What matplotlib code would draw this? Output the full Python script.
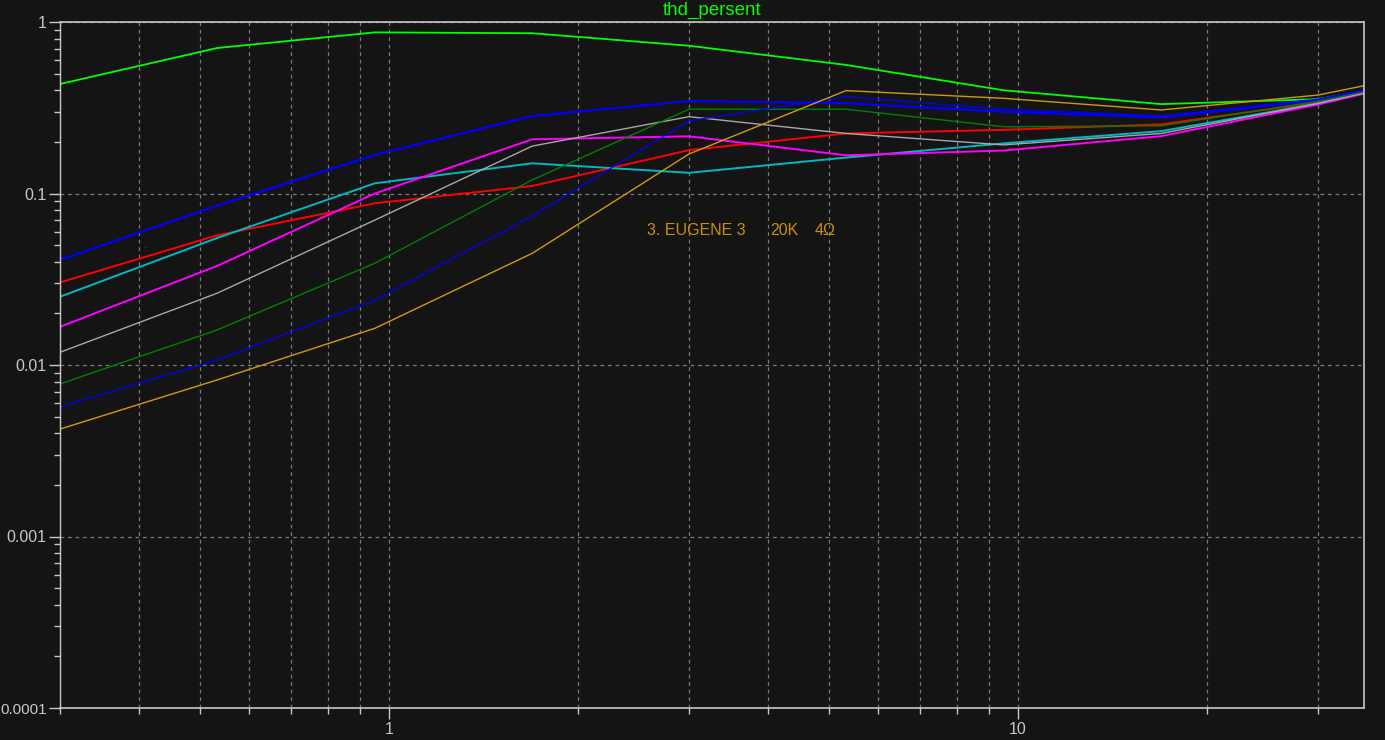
import matplotlib
matplotlib.use("Agg")
import matplotlib.pyplot as plt
from matplotlib.ticker import LogLocator, FixedLocator, FixedFormatter, NullFormatter

# ---- data ----
x_vals = [0.3, 0.533, 0.95, 1.69, 3.0, 5.33, 9.49, 16.9, 30.0, 35.5]

y_green   = [0.435, 0.705, 0.87, 0.86, 0.727, 0.562, 0.40, 0.332, 0.355, 0.395]
y_blue1   = [0.041, 0.085, 0.168, 0.283, 0.346, 0.336, 0.30, 0.278, 0.35, 0.40]
y_red     = [0.0303, 0.057, 0.0877, 0.1106, 0.179, 0.224, 0.235, 0.253, 0.34, 0.39]
y_cyan    = [0.025, 0.055, 0.1147, 0.150, 0.132, 0.162, 0.196, 0.231, 0.335, 0.385]
y_magenta = [0.0167, 0.0378, 0.100, 0.207, 0.2155, 0.167, 0.178, 0.216, 0.33, 0.382]
y_gray    = [0.01186, 0.0262, 0.070, 0.189, 0.2805, 0.224, 0.192, 0.224, 0.335, 0.385]
y_dgreen  = [0.00775, 0.016, 0.0392, 0.12, 0.31, 0.31, 0.245, 0.248, 0.345, 0.39]
y_blue2   = [0.00571, 0.0107, 0.0239, 0.074, 0.265, 0.367, 0.31, 0.283, 0.355, 0.40]
y_orange  = [0.00423, 0.00818, 0.01637, 0.0448, 0.170, 0.398, 0.359, 0.307, 0.375, 0.425]

series = [
    (y_green,   "#00ff00", 1.3),
    (y_blue1,   "#0000ff", 1.6),
    (y_red,     "#ff0000", 1.4),
    (y_cyan,    "#00b8c0", 1.4),
    (y_magenta, "#ff00ff", 1.4),
    (y_gray,    "#a8a8a8", 1.0),
    (y_dgreen,  "#008000", 1.0),
    (y_blue2,   "#0000ff", 0.9),
    (y_orange,  "#d09a10", 1.0),
]

title_text = "thd_persent"
annot_parts = ["3. EUGENE 3", "20K", "4\u03a9"]
y_tick_vals = [1e-4, 1e-3, 1e-2, 1e-1, 1]
y_tick_labels = ["0.0001", "0.001", "0.01", "0.1", "1"]
x_major = [1, 10]
x_major_labels = ["1", "10"]

# ---- figure ----
fam = ["Liberation Sans", "DejaVu Sans"]
bg = "#141414"
fg = "#c8c8c8"
W, H = 1385, 740
fig = plt.figure(figsize=(W / 100, H / 100), dpi=100, facecolor=bg)
L, R, T, B = 60, 1364, 22, 708
ax = fig.add_axes([L / W, 1 - B / H, (R - L) / W, (B - T) / H], facecolor=bg)

for y, c, lw in series:
    ax.plot(x_vals, y, color=c, lw=lw, solid_joinstyle="miter")

ax.set_xscale("log")
ax.set_yscale("log")
ax.set_xlim(0.3, 35.5)
ax.set_ylim(1e-4, 1)

# x ticks
ax.xaxis.set_major_locator(FixedLocator(x_major))
ax.xaxis.set_major_formatter(FixedFormatter(x_major_labels))
ax.xaxis.set_minor_locator(LogLocator(base=10, subs=[2, 3, 4, 5, 6, 7, 8, 9], numticks=20))
ax.xaxis.set_minor_formatter(NullFormatter())
# y ticks
ax.yaxis.set_major_locator(FixedLocator(y_tick_vals))
ax.yaxis.set_major_formatter(FixedFormatter(y_tick_labels))
ax.yaxis.set_minor_locator(LogLocator(base=10, subs=[2, 3, 4, 5, 6, 7, 8, 9], numticks=20))
ax.yaxis.set_minor_formatter(NullFormatter())

ax.tick_params(axis="both", which="major", colors=fg, length=8, width=1,
               labelsize=11.5, direction="out")
ax.tick_params(axis="both", which="minor", colors=fg, length=4, width=1, direction="out")
ax.tick_params(axis="x", which="major", pad=2)
ax.tick_params(axis="y", which="major", pad=1.5)
for lab in ax.get_xticklabels() + ax.get_yticklabels():
    lab.set_family(fam)
    lab.set_fontsize(11.5)
for lab in ax.get_yticklabels():
    if lab.get_text() == "0.0001":
        lab.set_fontsize(11)

grid_kw = dict(color="#7a7a7a", lw=0.9, linestyle=(0, (3, 3)))
ax.grid(True, which="major", axis="y", **grid_kw)
ax.grid(True, which="both", axis="x", **grid_kw)
ax.set_axisbelow(True)

for s in ax.spines.values():
    s.set_color(fg)
    s.set_linewidth(1.2)
ax.spines["left"].set_linewidth(1.0)

fig.text(((L + R) / 2) / W, 1 - 10 / H, title_text, color="#00ff00",
         fontsize=13.5, ha="center", va="center", family=fam)

annot_x = [647, 770, 815]
for px, t in zip(annot_x, annot_parts):
    ax.text((px - L) / (R - L), (B - 231) / (B - T), t, transform=ax.transAxes,
            color="#c8900a", fontsize=11.5, ha="left", va="center", family=fam)

fig.savefig("out.png", dpi=100, facecolor=bg)
